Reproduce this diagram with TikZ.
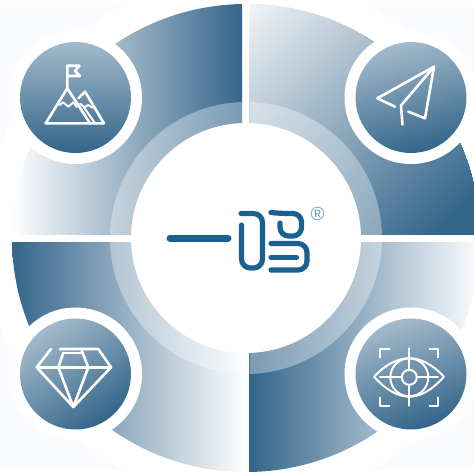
\documentclass[tikz,border=0pt]{standalone}
\usepackage{fontspec}
\setmainfont{Liberation Sans}
\definecolor{deep}{HTML}{33658A}
\definecolor{light}{HTML}{A3BACB}
\definecolor{pale}{HTML}{FAFBFF}
\definecolor{logo}{HTML}{1A6090}
\definecolor{regmark}{HTML}{6F9BBB}
\tikzset{
  medallion/.style={circle,minimum size=111pt,inner sep=0pt,top color=light,bottom color=deep},
  halo/.style={circle,minimum size=133pt,inner sep=0pt,fill=white},
  ico/.style={draw=white,line width=2.6pt,line join=round,line cap=round},
  logostroke/.style={draw=logo,line width=5.2pt,line cap=round,line join=round},
  ringveil/.style={fill=white,fill opacity=0.35}
}
\begin{document}
\begin{tikzpicture}[x=1pt,y=-1pt]
\useasboundingbox (0,0) rectangle (474,475);
\fill[white] (0,0) rectangle (474,475);
\fill[pale] (0,4) rectangle (474,471);
\coordinate (c) at (246,238);
\fill[white] (c) circle[radius=262pt];
% quadrants
\begin{scope}
  \clip (0,0) rectangle (242,234);
  \clip (c) circle[radius=234pt];
  \shade[left color=white,right color=deep] (12,0) rectangle (242,234);
  \fill[ringveil] (c) circle[radius=136pt];
\end{scope}
\begin{scope}
  \clip (249.5,0) rectangle (474,234);
  \clip (c) circle[radius=234pt];
  \foreach \i in {7,8,...,100}{
    \pgfmathsetmacro{\s}{253.5+(\i-7)*4.4785}
    \fill[deep!\i!white] (\s,0) -- ({\s-240},240) -- (720,240) -- (720,0) -- cycle;
  }
  \fill[ringveil] (c) circle[radius=136pt];
\end{scope}
\begin{scope}
  \clip (0,242) rectangle (242,475);
  \clip (c) circle[radius=234pt];
  \shade[left color=deep,right color=white] (12,242) rectangle (246,475);
  \fill[ringveil] (c) circle[radius=136pt];
\end{scope}
\begin{scope}
  \clip (249.5,242) rectangle (474,475);
  \clip (c) circle[radius=234pt];
  \shade[left color=deep,right color=white] (249.5,242) rectangle (482,475);
  \fill[ringveil] (c) circle[radius=136pt];
\end{scope}
\node[circle,minimum size=230pt,inner sep=0pt,fill=white] (core) at (c) {};
% medallions
\node[halo] at (75.5,97.5) {};
\node[halo] at (411,97.5) {};
\node[halo] at (75.5,374) {};
\node[halo] at (411,374) {};
\node[medallion] (mountain) at (75.5,97.5) {};
\node[medallion,shading angle=15] (plane) at (411,97.5) {};
\node[medallion,shading angle=35] (diamond) at (75.5,374) {};
\node[medallion,shading angle=20] (eye) at (411,374) {};
% mountain icon
\draw[ico] (67.3,88.3) -- (67.3,65.7) -- (79.5,65.7) -- (75,71) -- (80,76) -- (67.3,76);
\draw[ico] (45.7,123.3) -- (104,123.3) -- (85,91.7) -- (78.3,98.3);
\draw[ico] (45.7,123.3) -- (67.3,88.3) -- (90,123.3);
\draw[ico,line width=2pt] (59.5,105) -- (63.3,102.3) -- (68.3,106.7) -- (73.3,102.3) -- (76.7,106.7) -- (79,104.5);
\draw[ico,line width=2pt] (80,103.5) -- (84.3,107.3) -- (88.3,105) -- (92.5,107.8);
\draw[ico,line width=2pt] (84,107.5) -- (95,123.3);
% plane icon
\draw[ico] (395,106.7) -- (377.3,98.3) -- (434,66.7) -- (425,118.3) -- (408.3,111.7);
\draw[ico] (434,66.7) -- (401,105.5) -- (402.5,124.5);
% diamond icon
\draw[ico] (51,349) -- (36.7,367.3) -- (73.3,407) -- (111,367.3) -- (98.3,349) -- (60,349);
\draw[ico] (36.7,367.3) -- (111,367.3);
\draw[ico] (63.3,353) -- (58.3,367.3) -- (73.3,407) -- (88.3,367.3) -- (81.7,350.7);
\draw[ico] (63.3,353) -- (82,353);
% eye icon
\draw[ico,line width=2pt] (374,376.7) .. controls (386,364) and (398,358.3) .. (409.3,358.3) .. controls (420.5,358.3) and (432,364) .. (444,376.7) .. controls (432,390) and (420.5,396.7) .. (409.3,396.7) .. controls (398,396.7) and (386,390) .. (374,376.7) -- cycle;
\draw[ico,line width=2pt] (409.3,377.3) circle[radius=19pt];
\draw[ico,line width=2pt] (409.3,377.3) circle[radius=7.5pt];
\draw[ico,line width=2pt] (409.3,348.3) -- (409.3,369) (409.3,386) -- (409.3,405.7) (380,377.3) -- (401,377.3) (418,377.3) -- (438,377.3);
\draw[ico,line width=2pt,line cap=butt] (390,349) -- (380,349) -- (380,358) (429.3,349) -- (438.3,349) -- (438.3,358) (380,397) -- (380,405.7) -- (390,405.7) (429.3,405.7) -- (438.3,405.7) -- (438.3,397);
% logo
\draw[logo,line width=7pt,line cap=round] (170,238.2) -- (228,238.2);
\draw[logostroke,rounded corners=9pt] (241,213.5) -- (262.5,213.5) -- (262.5,268) -- (241.5,268) -- (241.5,225);
\draw[logostroke,rounded corners=8.5pt] (271,212.5) -- (280,213.5) -- (301.5,213.5) -- (301.5,236) -- (280,236) -- (280,223);
\draw[logostroke,rounded corners=9pt] (271,243.5) -- (307,243.5) -- (307,270) -- (271,270);
\draw[logostroke] (271,257.3) -- (296.5,257.3);
\node[text=regmark,font=\fontsize{19}{19}\selectfont,inner sep=0pt] (reg) at (317.5,213.5) {®};
\end{tikzpicture}
\end{document}
